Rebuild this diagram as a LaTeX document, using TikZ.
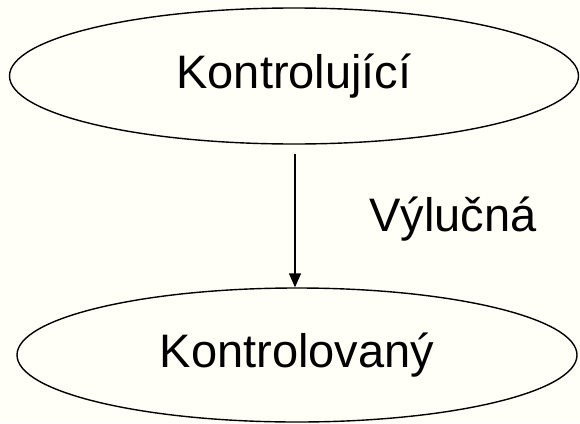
\documentclass[tikz,border=0pt]{standalone}
\usepackage{fontspec}
\setmainfont{Liberation Sans}
\usetikzlibrary{shapes.geometric,arrows.meta}
\definecolor{bgcol}{RGB}{255,255,248}
\tikzset{
  ell/.style={draw=black, line width=1.4pt, ellipse, inner sep=0pt,
    font=\fontsize{47}{56}\selectfont},
  lbl/.style={font=\fontsize{47}{56}\selectfont, inner sep=0pt},
  arr/.style={draw=black, line width=1.4pt, -{Triangle[length=14pt,width=12pt]}}
}
\begin{document}
\begin{tikzpicture}[x=1pt,y=-1pt]
\fill[bgcol] (0,0) rectangle (580,423);
\useasboundingbox (0,0) rectangle (580,423);
\node[ell, minimum width=569pt, minimum height=136pt] (top) at (294,76) {Kontrolující};
\node[ell, minimum width=560pt, minimum height=134pt] (bot) at (297,355) {Kontrolovaný};
\draw[arr, shorten <=9pt] (top.south -| 295,0) -- (bot.north -| 295,0);
\node[lbl, anchor=base] (vyl) at (453,231) {Výlučná};
\end{tikzpicture}
\end{document}
